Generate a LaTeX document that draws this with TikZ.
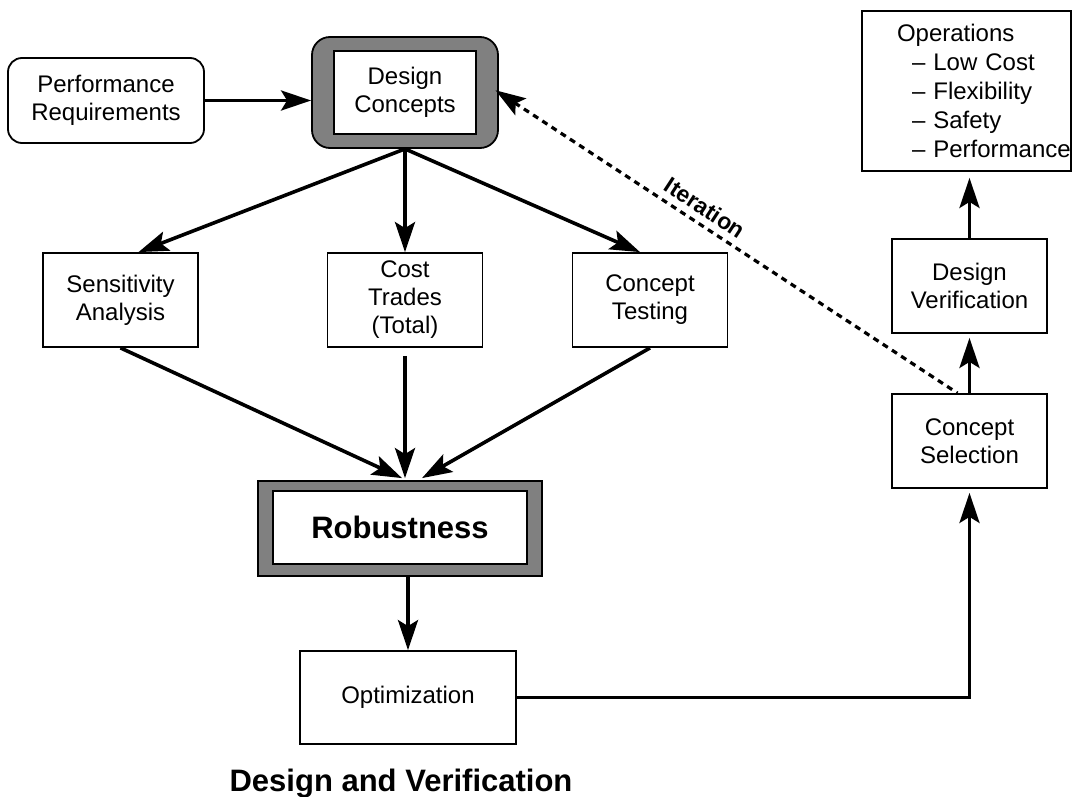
\documentclass[tikz,border=0pt]{standalone}
\usepackage{fontspec}
\setmainfont{Liberation Sans}
\usetikzlibrary{arrows.meta}
\begin{document}
\begin{tikzpicture}[x=0.5pt,y=-0.5pt,
    font=\fontsize{12}{14}\selectfont,
    boxnode/.style={draw,line width=0.9pt,fill=white,align=center,minimum width=77.5pt,minimum height=47pt},
    grayframe/.style={draw,line width=0.9pt,fill=gray},
    flowarrow/.style={line width=1.8pt,-{Stealth[length=15pt,width=10pt,inset=3pt]}},
    iterarrow/.style={line width=1.6pt,dash pattern=on 3pt off 2.5pt,{Stealth[length=15pt,width=10pt,inset=3pt]}-}]
\useasboundingbox (0,0) rectangle (1073,797);
\node[boxnode,rounded corners=7pt,minimum width=98pt,minimum height=42.5pt] (perf) at (106,100.5) {Performance\\Requirements};
\node[grayframe,rounded corners=9pt,minimum width=93pt,minimum height=55.5pt] (dcframe) at (405,92.5) {};
\node[boxnode,minimum width=71pt,minimum height=41.5pt] (dc) at (405,92.5) {Design\\Concepts};
\node[boxnode] (sens) at (120.5,300) {Sensitivity\\Analysis};
\node[boxnode] (cost) at (405,300) {Cost\\Trades\\(Total)};
\node[boxnode] (test) at (650,300) {Concept\\Testing};
\node[grayframe,minimum width=142pt,minimum height=47.5pt] (robframe) at (400,528.5) {};
\node[boxnode,minimum width=127pt,minimum height=36.5pt,font=\fontsize{15.5}{18}\selectfont\bfseries] (rob) at (400,527.5) {Robustness};
\node[boxnode,minimum width=108pt,minimum height=46.5pt] (opt) at (408,697.5) {Optimization};
\node[boxnode] (sel) at (969.5,441) {Concept\\Selection};
\node[boxnode] (ver) at (969.5,286) {Design\\Verification};
\node[boxnode,minimum width=104.5pt,minimum height=80pt,text width=104.5pt,inner xsep=0pt,align=left,font=\fontsize{12}{14.6}\selectfont] (ops) at (966.5,91)
    {\hspace*{17.5pt}Operations\\\hspace*{25pt}--~Low~Cost\\\hspace*{25pt}--~Flexibility\\\hspace*{25pt}--~Safety\\\hspace*{25pt}--~Performance};
\node[font=\fontsize{15.5}{18}\selectfont\bfseries,anchor=base] (title) at (401,791) {Design and Verification};
\draw[flowarrow] (perf.east) -- (perf.east -| dcframe.west);
\draw[flowarrow] (dcframe.south) -- ([xshift=9pt]sens.north);
\draw[flowarrow] (dcframe.south) -- (cost.north);
\draw[flowarrow] (dcframe.south) -- ([xshift=-5pt]test.north);
\draw[flowarrow] (sens.south) -- ([xshift=1pt,yshift=1pt]robframe.north);
\draw[flowarrow,shorten <=4pt] (cost.south) -- ([yshift=1pt]cost.south |- robframe.north);
\draw[flowarrow] (test.south) -- ([xshift=11pt,yshift=1pt]robframe.north);
\draw[flowarrow] (opt.north |- robframe.south) -- (opt.north);
\draw[flowarrow,shorten >=2pt] (opt.east) -| (sel.south);
\draw[flowarrow,shorten >=2pt] (sel.north) -- (ver.south);
\draw[flowarrow,shorten >=3pt] (ver.north) -- (ver.north |- ops.south);
\draw[iterarrow,shorten <=-2pt] (dcframe.east) -- ([xshift=-6pt]sel.north) node[pos=0.43,above,sloped,font=\fontsize{11.5}{14}\selectfont\bfseries] {Iteration};
\end{tikzpicture}
\end{document}
